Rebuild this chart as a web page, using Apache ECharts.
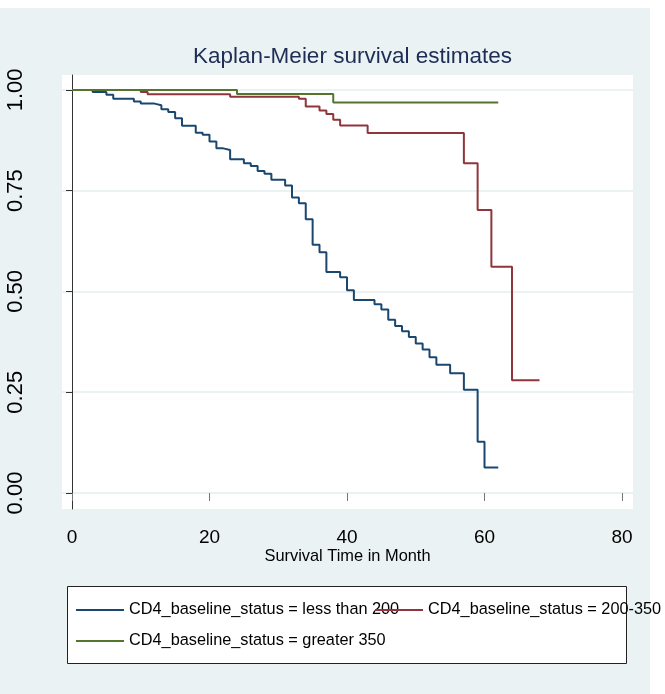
<!DOCTYPE html>
<html>
<head>
<meta charset="utf-8">
<script src="https://cdn.jsdelivr.net/npm/echarts@6/dist/echarts.min.js"></script>
<style>
  html, body { margin: 0; padding: 0; background: #ffffff; }
  #bg { position: absolute; left: 0; top: 8px; width: 650px; height: 686px; background: #eaf2f3; }
  #chart { position: absolute; left: 0; top: 0; width: 665px; height: 694px; }
</style>
</head>
<body>
<div id="bg"></div>
<div id="chart"></div>
<script>
// ---- data ----
const seriesNames = [
  'CD4_baseline_status = less than 200',
  'CD4_baseline_status = 200-350',
  'CD4_baseline_status = greater 350'
];
const lowTimes = [0,3,5,6,9,10,12,13,14,15,16,18,19,20,21,22,23,25,26,27,28,29,31,32,33,34,35,36,37,39,40,41,44,45,46,47,48,49,50,51,52,53,55,57,59,60,62];
const lowSurv  = [1,0.995,0.988,0.978,0.971,0.966,0.962,0.952,0.945,0.930,0.911,0.894,0.889,0.872,0.855,0.851,0.828,0.818,0.811,0.799,0.792,0.777,0.763,0.733,0.719,0.679,0.616,0.597,0.548,0.535,0.503,0.479,0.468,0.455,0.430,0.414,0.401,0.387,0.371,0.356,0.337,0.318,0.297,0.256,0.127,0.063,0.063];
const midTimes = [0,10,11,23,33,34,36,37,38,39,43,57,59,61,64,68];
const midSurv  = [1,0.995,0.989,0.983,0.978,0.959,0.949,0.940,0.926,0.912,0.893,0.818,0.702,0.561,0.280,0.280];
const highTimes = [0,24,38,62];
const highSurv  = [1,0.990,0.969,0.969];
const xTicks = [0,20,40,60,80];
const yTicks = [0,0.25,0.5,0.75,1];

const FONT = "'Liberation Sans',Arial,sans-serif";
const colors = ['#1a476f','#90353b','#55752f'];

function pairs(t, s) { return t.map((v, i) => [v, s[i]]); }

const chart = echarts.init(document.getElementById('chart'), null, { renderer: 'canvas' });

function mkLegend(name, left, top) {
  return {
    data: [name], left: left, top: top, orient: 'horizontal',
    icon: 'rect', itemWidth: 48, itemHeight: 2, itemGap: 0, padding: 0,
    selectedMode: false,
    textStyle: { fontFamily: FONT, fontSize: 16.3, color: '#000' }
  };
}

chart.setOption({
  animation: false,
  backgroundColor: 'transparent',
  color: colors,
  title: {
    text: 'Kaplan-Meier survival estimates',
    left: 347.5, top: 40, textAlign: 'center',
    textStyle: { fontFamily: FONT, fontSize: 22.5, fontWeight: 'normal', color: '#1e2d55' }
  },
  graphic: [{
    type: 'rect', z: 0,
    shape: { x: 67.5, y: 586.5, width: 559, height: 77 },
    style: { fill: '#ffffff', stroke: '#222222', lineWidth: 1 }
  }],
  legend: [
    mkLegend(seriesNames[0], 76, 602),
    mkLegend(seriesNames[1], 375, 602),
    mkLegend(seriesNames[2], 76, 633)
  ],
  grid: { left: 62, right: 32, top: 75, bottom: 185, show: true, backgroundColor: '#ffffff', borderWidth: 0, containLabel: false },
  xAxis: {
    type: 'value', min: -1.455, max: 81.6,
    name: 'Survival Time in Month', nameLocation: 'middle', nameGap: 39, nameMoveOverlap: false,
    nameTextStyle: { fontFamily: FONT, fontSize: 16.4, color: '#000' },
    axisLine: { show: false },
    axisTick: { show: true, inside: false, length: 8, customValues: xTicks, lineStyle: { color: '#777', width: 1 } },
    axisLabel: { customValues: xTicks, fontFamily: FONT, fontSize: 19, color: '#000', margin: 19 },
    splitLine: { show: false }
  },
  yAxis: {
    type: 'value', min: -0.0397, max: 1.037,
    axisLine: { show: true, lineStyle: { color: '#333', width: 1 } },
    axisTick: { show: true, inside: false, length: 6, customValues: yTicks, lineStyle: { color: '#333', width: 1 } },
    axisLabel: { customValues: yTicks, rotate: 90, fontFamily: FONT, fontSize: 22, color: '#000', margin: 35.5,
      formatter: v => v.toFixed(2) },
    splitLine: { show: true, lineStyle: { color: '#eaf2f3', width: 2 } }
  },
  series: [
    { name: seriesNames[0], type: 'line', step: 'end', symbol: 'none', data: pairs(lowTimes, lowSurv), lineStyle: { width: 2, color: colors[0] }, itemStyle: { color: colors[0] } },
    { name: seriesNames[1], type: 'line', step: 'end', symbol: 'none', data: pairs(midTimes, midSurv), lineStyle: { width: 2, color: colors[1] }, itemStyle: { color: colors[1] } },
    { name: seriesNames[2], type: 'line', step: 'end', symbol: 'none', data: pairs(highTimes, highSurv), lineStyle: { width: 2, color: colors[2] }, itemStyle: { color: colors[2] } }
  ]
});
</script>
</body>
</html>
